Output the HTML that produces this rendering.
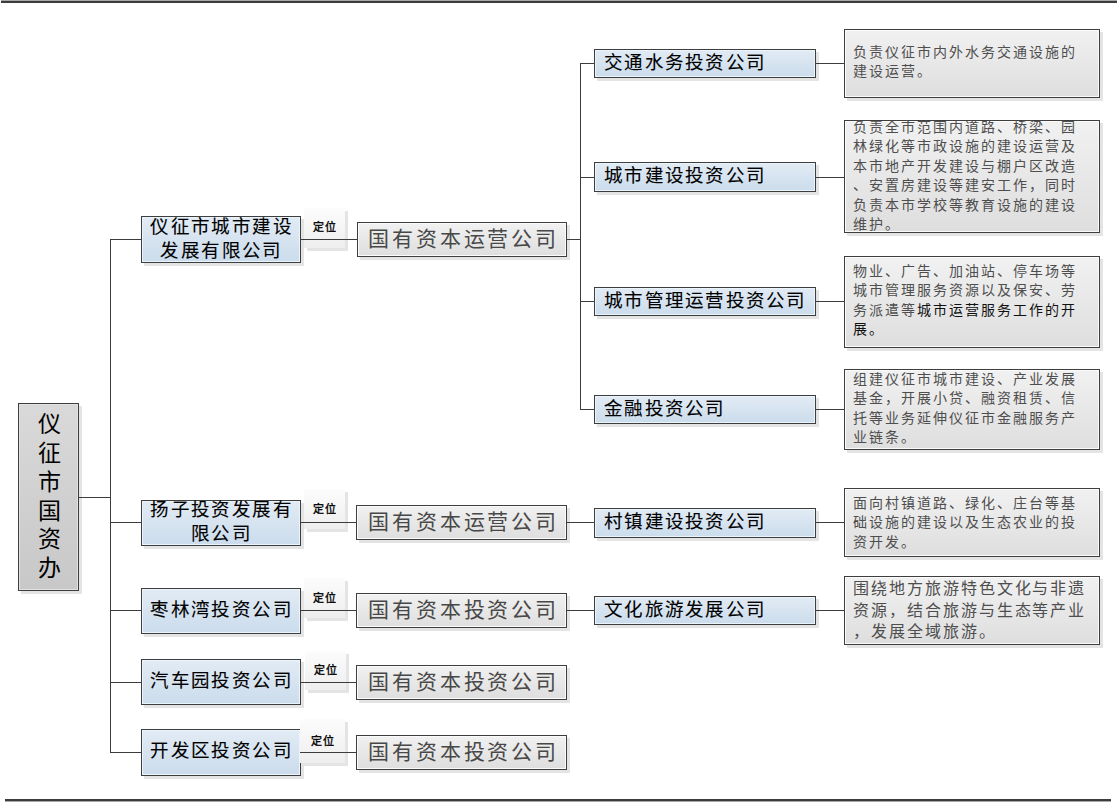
<!DOCTYPE html><html lang="zh-CN"><head><meta charset="utf-8"><style>
*{margin:0;padding:0;box-sizing:border-box}
html,body{width:1118px;height:802px;overflow:hidden;background:#fff}
body{position:relative;font-family:"Liberation Sans",sans-serif;color:#000}
.ln{position:absolute}
.bx{position:absolute;border:1px solid #3e3e3e}
.blue{background:linear-gradient(#e2ebf4,#cbdcec);box-shadow:inset 1px 1px 0 #eaf4fd,inset -1px -1px 0 #eaf4fd,3px 3px 0 #e4e4e4}
.gray{background:linear-gradient(#f1f1f1,#dedede);box-shadow:inset 1px 1px 0 #fbfbfb,inset -1px -1px 0 #fbfbfb,3px 3px 0 #e4e4e4}
.root{background:linear-gradient(#d9d9d9,#c8c8c8);box-shadow:inset 1px 1px 0 #e2e2e2,inset -1px -1px 0 #e2e2e2,3px 3px 0 #e4e4e4}
.dw{position:absolute;background:linear-gradient(#fcfcfc,#eeeeee);box-shadow:3px 3px 0 #e4e4e4}
.t{position:absolute;white-space:nowrap}
.b{-webkit-text-stroke:0.1px #000}
</style></head><body>
<div class="ln" style="left:1px;top:0;width:1116px;height:1px;background:#a8a8a8"></div>
<div class="ln" style="left:1px;top:1px;width:1116px;height:2px;background:#3c3c3c"></div>
<div class="ln" style="left:5px;top:799px;width:1106px;height:2px;background:#3c3c3c"></div>
<div class="ln" style="left:5px;top:801px;width:1106px;height:1px;background:#a8a8a8"></div>
<div class="bx root" style="left:18px;top:403px;width:61px;height:188px"></div>
<div class="t" style="left:36px;top:410px;width:26px;font-size:23px;line-height:28.85px;white-space:normal;text-align:center">仪征市国资办</div>
<div class="bx blue" style="left:141px;top:216px;width:160px;height:47px"></div>
<div class="t b" style="left:141.7px;top:215px;width:160px;text-align:center;font-size:18.5px;line-height:23.8px;letter-spacing:1.4px">仪征市城市建设<br>发展有限公司</div>
<div class="bx blue" style="left:141px;top:500px;width:160px;height:46px"></div>
<div class="t b" style="left:141.7px;top:498px;width:160px;text-align:center;font-size:18.5px;line-height:23.8px;letter-spacing:1.4px">扬子投资发展有<br>限公司</div>
<div class="bx blue" style="left:141px;top:588px;width:160px;height:46px"></div>
<div class="t b" style="left:141.7px;top:598px;width:160px;text-align:center;font-size:18.5px;line-height:24px;letter-spacing:1.4px">枣林湾投资公司</div>
<div class="bx blue" style="left:141px;top:659px;width:160px;height:46px"></div>
<div class="t b" style="left:141.7px;top:669px;width:160px;text-align:center;font-size:18.5px;line-height:24px;letter-spacing:1.4px">汽车园投资公司</div>
<div class="bx blue" style="left:141px;top:729px;width:160px;height:47px"></div>
<div class="t b" style="left:141.7px;top:739px;width:160px;text-align:center;font-size:18.5px;line-height:24px;letter-spacing:1.4px">开发区投资公司</div>
<div class="dw" style="left:304px;top:208px;width:41px;height:40px"></div>
<div class="t" style="left:313.3px;top:218.3px;font-size:11px;-webkit-text-stroke:0.35px #000;letter-spacing:1px">定位</div>
<div class="dw" style="left:304px;top:489px;width:41px;height:40px"></div>
<div class="t" style="left:313.3px;top:499.8px;font-size:11px;-webkit-text-stroke:0.35px #000;letter-spacing:1px">定位</div>
<div class="dw" style="left:304px;top:578px;width:41px;height:40px"></div>
<div class="t" style="left:313.3px;top:588.6999999999999px;font-size:11px;-webkit-text-stroke:0.35px #000;letter-spacing:1px">定位</div>
<div class="dw" style="left:305px;top:651px;width:41px;height:39px"></div>
<div class="t" style="left:314.0px;top:661.3px;font-size:11px;-webkit-text-stroke:0.35px #000;letter-spacing:1px">定位</div>
<div class="dw" style="left:300px;top:719px;width:45px;height:44px"></div>
<div class="t" style="left:310.9px;top:731.8px;font-size:11px;-webkit-text-stroke:0.35px #000;letter-spacing:1px">定位</div>
<div class="bx gray" style="left:357px;top:222px;width:210px;height:35px"></div>
<div class="t" style="left:368px;top:225px;font-size:21px;line-height:28px;letter-spacing:2.9px;color:#484848">国有资本运营公司</div>
<div class="bx gray" style="left:356px;top:505px;width:211px;height:35px"></div>
<div class="t" style="left:368px;top:508px;font-size:21px;line-height:28px;letter-spacing:2.9px;color:#484848">国有资本运营公司</div>
<div class="bx gray" style="left:356px;top:593px;width:211px;height:35px"></div>
<div class="t" style="left:368px;top:596px;font-size:21px;line-height:28px;letter-spacing:2.9px;color:#484848">国有资本投资公司</div>
<div class="bx gray" style="left:356px;top:665px;width:211px;height:35px"></div>
<div class="t" style="left:368px;top:668px;font-size:21px;line-height:28px;letter-spacing:2.9px;color:#484848">国有资本投资公司</div>
<div class="bx gray" style="left:356px;top:735px;width:211px;height:35px"></div>
<div class="t" style="left:368px;top:738px;font-size:21px;line-height:28px;letter-spacing:2.9px;color:#484848">国有资本投资公司</div>
<div class="bx blue" style="left:594px;top:49px;width:222px;height:29px"></div>
<div class="t b" style="left:604px;top:51.3px;font-size:18.5px;line-height:24px;letter-spacing:1.25px">交通水务投资公司</div>
<div class="bx blue" style="left:594px;top:162px;width:222px;height:30px"></div>
<div class="t b" style="left:604px;top:164.3px;font-size:18.5px;line-height:24px;letter-spacing:1.25px">城市建设投资公司</div>
<div class="bx blue" style="left:594px;top:287px;width:222px;height:29px"></div>
<div class="t b" style="left:604px;top:289.3px;font-size:18.5px;line-height:24px;letter-spacing:1.25px">城市管理运营投资公司</div>
<div class="bx blue" style="left:594px;top:395px;width:222px;height:29px"></div>
<div class="t b" style="left:604px;top:397.3px;font-size:18.5px;line-height:24px;letter-spacing:1.25px">金融投资公司</div>
<div class="bx blue" style="left:594px;top:508px;width:222px;height:30px"></div>
<div class="t b" style="left:604px;top:510.3px;font-size:18.5px;line-height:24px;letter-spacing:1.25px">村镇建设投资公司</div>
<div class="bx blue" style="left:594px;top:596px;width:222px;height:29px"></div>
<div class="t b" style="left:604px;top:598.3px;font-size:18.5px;line-height:24px;letter-spacing:1.25px">文化旅游发展公司</div>
<div class="bx gray" style="left:844px;top:29px;width:256px;height:69px"></div>
<div class="t" style="left:853px;top:43px;font-size:14px;line-height:19.4px;letter-spacing:2.0px;color:#4e4e4e">负责仪征市内外水务交通设施的<br>建设运营。</div>
<div class="bx gray" style="left:844px;top:120px;width:256px;height:113px"></div>
<div class="t" style="left:853px;top:118px;font-size:14px;line-height:19.4px;letter-spacing:2.0px;color:#4e4e4e">负责全市范围内道路、桥梁、园<br>林绿化等市政设施的建设运营及<br>本市地产开发建设与棚户区改造<br>、安置房建设等建安工作，同时<br>负责本市学校等教育设施的建设<br>维护。</div>
<div class="bx gray" style="left:844px;top:256px;width:256px;height:92px"></div>
<div class="t" style="left:853px;top:262px;font-size:14px;line-height:19.4px;letter-spacing:2.0px;color:#4e4e4e">物业、广告、加油站、停车场等<br>城市管理服务资源以及保安、劳<br>务派遣等<span style="color:#111">城市运营服务工作的开</span><br><span style="color:#111">展。</span></div>
<div class="bx gray" style="left:844px;top:369px;width:256px;height:81px"></div>
<div class="t" style="left:853px;top:370px;font-size:14px;line-height:19.4px;letter-spacing:2.0px;color:#4e4e4e">组建仪征市城市建设、产业发展<br>基金，开展小贷、融资租赁、信<br>托等业务延伸仪征市金融服务产<br>业链条。</div>
<div class="bx gray" style="left:844px;top:488px;width:256px;height:69px"></div>
<div class="t" style="left:853px;top:494px;font-size:14px;line-height:19.4px;letter-spacing:2.0px;color:#4e4e4e">面向村镇道路、绿化、庄台等基<br>础设施的建设以及生态农业的投<br>资开发。</div>
<div class="bx gray" style="left:844px;top:576px;width:256px;height:69px"></div>
<div class="t" style="left:853px;top:578px;font-size:16px;line-height:21.5px;letter-spacing:1.95px;color:#4e4e4e">围绕地方旅游特色文化与非遗<br>资源，结合旅游与生态等产业<br>，发展全域旅游。</div>
<div class="ln" style="left:79px;top:497px;width:31px;height:1px;background:#3c3c3c"></div>
<div class="ln" style="left:110px;top:239px;width:1px;height:514px;background:#3c3c3c"></div>
<div class="ln" style="left:110px;top:239px;width:31px;height:1px;background:#3c3c3c"></div>
<div class="ln" style="left:300px;top:239px;width:57px;height:1px;background:#3c3c3c"></div>
<div class="ln" style="left:110px;top:522px;width:31px;height:1px;background:#3c3c3c"></div>
<div class="ln" style="left:300px;top:522px;width:57px;height:1px;background:#3c3c3c"></div>
<div class="ln" style="left:110px;top:610px;width:31px;height:1px;background:#3c3c3c"></div>
<div class="ln" style="left:300px;top:610px;width:57px;height:1px;background:#3c3c3c"></div>
<div class="ln" style="left:110px;top:682px;width:31px;height:1px;background:#3c3c3c"></div>
<div class="ln" style="left:300px;top:682px;width:57px;height:1px;background:#3c3c3c"></div>
<div class="ln" style="left:110px;top:752px;width:31px;height:1px;background:#3c3c3c"></div>
<div class="ln" style="left:300px;top:752px;width:57px;height:1px;background:#3c3c3c"></div>
<div class="ln" style="left:567px;top:239px;width:14px;height:1px;background:#3c3c3c"></div>
<div class="ln" style="left:580px;top:63px;width:1px;height:347px;background:#3c3c3c"></div>
<div class="ln" style="left:580px;top:63px;width:14px;height:1px;background:#3c3c3c"></div>
<div class="ln" style="left:580px;top:177px;width:14px;height:1px;background:#3c3c3c"></div>
<div class="ln" style="left:580px;top:301px;width:14px;height:1px;background:#3c3c3c"></div>
<div class="ln" style="left:580px;top:409px;width:14px;height:1px;background:#3c3c3c"></div>
<div class="ln" style="left:567px;top:522px;width:27px;height:1px;background:#3c3c3c"></div>
<div class="ln" style="left:567px;top:610px;width:27px;height:1px;background:#3c3c3c"></div>
<div class="ln" style="left:816px;top:63px;width:28px;height:1px;background:#3c3c3c"></div>
<div class="ln" style="left:816px;top:177px;width:28px;height:1px;background:#3c3c3c"></div>
<div class="ln" style="left:816px;top:301px;width:28px;height:1px;background:#3c3c3c"></div>
<div class="ln" style="left:816px;top:409px;width:28px;height:1px;background:#3c3c3c"></div>
<div class="ln" style="left:816px;top:522px;width:28px;height:1px;background:#3c3c3c"></div>
<div class="ln" style="left:816px;top:610px;width:28px;height:1px;background:#3c3c3c"></div>
</body></html>
